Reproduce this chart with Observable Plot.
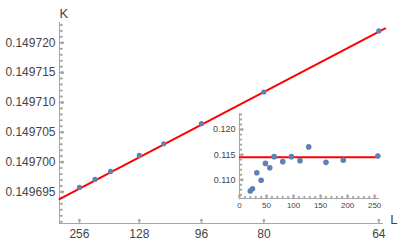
<!DOCTYPE html>
<html><head><meta charset="utf-8">
<script src="https://cdn.jsdelivr.net/npm/d3@7"></script>
<script src="https://cdn.jsdelivr.net/npm/@observablehq/plot@0.6"></script>
<style>
body{margin:0;background:#fff;}
#wrap{position:relative;width:401px;height:242px;font-family:"Liberation Sans",Arial,sans-serif;}
#wrap svg{position:absolute;overflow:visible;}
</style></head><body><div id="wrap"></div>
<script>
// main data: system size L, coupling K (x axis is 1/L^2)
const L = [256, 192, 160, 128, 112, 96, 80, 64];
const K = [0.14969575, 0.14969709, 0.14969843, 0.14970111, 0.14970307, 0.14970644, 0.14971175, 0.14972198];
// fitted line end points (x = 1/L^2)
const fitX = [0, 0.000249];
const fitK = [0.1496938, 0.1497224];
const xTickL = [256, 128, 96, 80, 64];
const yTicks = [0.149695, 0.149700, 0.149705, 0.149710, 0.149715, 0.149720];
const yTickLabels = ["0.149695", "0.149700", "0.149705", "0.149710", "0.149715", "0.149720"];
// inset data
const insetL = [20, 24, 32, 40, 48, 56, 64, 80, 96, 112, 128, 160, 192, 256];
const insetV = [0.10774, 0.1082, 0.1114, 0.1099, 0.11326, 0.1124, 0.1146, 0.1136, 0.1146, 0.1138, 0.11654, 0.11346, 0.1139, 0.11474];
const insetFit = [0.11446];
const insetYTicks = [0.110, 0.115, 0.120];
const insetYLabels = ["0.110", "0.115", "0.120"];
const insetXTicks = [0, 50, 100, 150, 200, 250];

const blue = "#5e81b5", red = "#ff0000", axisCol = "#a6a6a6", textCol = "#444";
const font = '"Liberation Sans", Arial, sans-serif';
const invSq = l => 1 / (l * l);
const xDom = [0, 0.0002477], yDom = [0.1496897, 0.1497234];
const pts = L.map((l, i) => ({x: invSq(l), k: K[i]}));
const fitData = fitX.map((x, i) => ({x, k: fitK[i]}));
const yMinor = d3.ticks(yDom[0], yDom[1], 34);
const xTickPos = xTickL.map(invSq);

const main = Plot.plot({
  width: 401, height: 242,
  marginLeft: 59, marginRight: 18, marginTop: 22, marginBottom: 19,
  x: {domain: xDom}, y: {domain: yDom},
  style: {background: "transparent", fontFamily: font, fontSize: "12px", color: textCol},
  marks: [
    Plot.ruleX([0], {stroke: axisCol}),
    Plot.ruleY([yDom[0]], {stroke: axisCol}),
    Plot.vector(yMinor, {x: 0, y: d => d, length: 2.5, rotate: 90, anchor: "start", stroke: axisCol}),
    Plot.vector(yTicks, {x: 0, y: d => d, length: 4, rotate: 90, anchor: "start", stroke: axisCol}),
    Plot.vector(xTickPos, {x: d => d, y: yDom[0], length: 4, rotate: 0, anchor: "start", stroke: axisCol}),
    Plot.axisY({ticks: yTicks, tickSize: 0, tickPadding: 4, label: null, fontSize: 12,
      tickFormat: d => yTickLabels[yTicks.indexOf(d)]}),
    Plot.axisX({ticks: xTickPos, tickSize: 0, tickPadding: 6, label: null, fontSize: 12,
      tickFormat: d => String(xTickL[xTickPos.indexOf(d)])}),
    Plot.line(fitData, {x: "x", y: "k", stroke: red, strokeWidth: 2}),
    Plot.dot(pts, {x: "x", y: "k", r: 2.6, fill: blue}),
    Plot.text(["K"], {frameAnchor: "top-left", dy: -14, fontSize: 13, fill: textCol}),
    Plot.text(["L"], {frameAnchor: "bottom-right", dx: 14, fontSize: 13, fill: textCol})
  ]
});

const iyDom = [0.10626, 0.1232];
const ixMinor = d3.range(0, 260, 10);
const iyMinor = d3.ticks(0.107, 0.123, 16);
const insetPts = insetL.map((l, i) => ({l, v: insetV[i]}));
const inset = Plot.plot({
  width: 201, height: 110,
  marginLeft: 39, marginRight: 22, marginTop: 8, marginBottom: 17,
  x: {domain: [0, 259]}, y: {domain: iyDom},
  style: {background: "transparent", fontFamily: font, fontSize: "9px", color: textCol},
  marks: [
    Plot.ruleX([0], {stroke: axisCol}),
    Plot.ruleY([iyDom[0]], {stroke: axisCol}),
    Plot.vector(ixMinor, {x: d => d, y: iyDom[0], length: 2, rotate: 0, anchor: "start", stroke: axisCol}),
    Plot.vector(insetXTicks, {x: d => d, y: iyDom[0], length: 3.5, rotate: 0, anchor: "start", stroke: axisCol}),
    Plot.vector(iyMinor, {x: 0, y: d => d, length: 2, rotate: 90, anchor: "start", stroke: axisCol}),
    Plot.vector(insetYTicks, {x: 0, y: d => d, length: 3.5, rotate: 90, anchor: "start", stroke: axisCol}),
    Plot.axisY({ticks: insetYTicks, tickSize: 0, tickPadding: 4, label: null, fontSize: 9,
      tickFormat: d => insetYLabels[insetYTicks.indexOf(d)]}),
    Plot.axisX({ticks: insetXTicks, tickSize: 0, tickPadding: 4, label: null, fontSize: 8,
      tickFormat: d => String(d)}),
    Plot.ruleY(insetFit, {stroke: red, strokeWidth: 2}),
    Plot.dot(insetPts, {x: "l", y: "v", r: 2.8, fill: blue})
  ]
});

const wrap = document.getElementById("wrap");
main.style.left = "0px"; main.style.top = "0px";
inset.style.left = "200px"; inset.style.top = "105px";
wrap.appendChild(main);
wrap.appendChild(inset);
</script>
</body></html>
